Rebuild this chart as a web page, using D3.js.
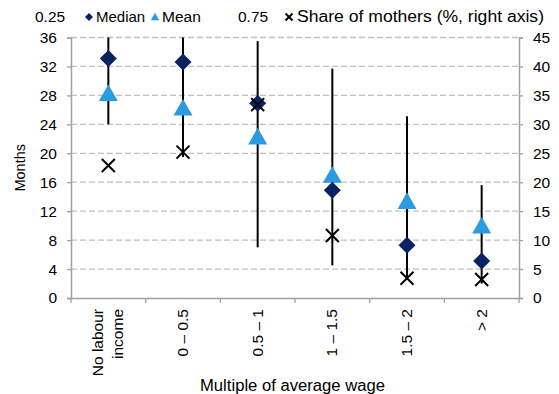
<!DOCTYPE html>
<html><head><meta charset="utf-8">
<script src="https://cdn.jsdelivr.net/npm/d3@7"></script>
<style>body{margin:0;background:#fff}svg{display:block}text{font-family:"Liberation Sans",Arial,sans-serif;fill:#000}</style>
</head><body><svg id="c" width="559" height="394"></svg>
<script>
const categories = ["No labour income","0 – 0.5","0.5 – 1","1 – 1.5","1.5 – 2","> 2"];
const q25 = [24, 19.5, 7, 4.5, 2.5, 2];
const q75 = [36, 36, 35.5, 31.7, 25.1, 15.6];
const median = [33.1, 32.6, 26.9, 14.9, 7.3, 5.1];
const mean = [28.2, 26.2, 22.2, 16.9, 13.3, 9.9];
const shareMothers = [22.9, 25.2, 33.4, 10.8, 3.4, 3.2];
const leftTicks = [0,4,8,12,16,20,24,28,32,36];
const rightTicks = [0,5,10,15,20,25,30,35,40,45];

const svg = d3.select("#c");
const L = 71, R = 519, T = 37.5, B = 298;
const x = d3.scaleBand().domain(categories).range([L, R]);
const yL = d3.scaleLinear().domain([0,36]).range([B, T]);
const yR = d3.scaleLinear().domain([0,45]).range([B, T]);
const axisCol = "#a0a0a0";

svg.append("g").selectAll("line").data(leftTicks.filter(d=>d>0)).join("line")
  .attr("x1", L).attr("x2", R).attr("y1", d=>yL(d)).attr("y2", d=>yL(d))
  .attr("stroke", "#c0c0c0").attr("stroke-width", 1.3).attr("stroke-dasharray", "6,3");

const gl = svg.append("g").attr("transform", `translate(${L},0)`)
  .call(d3.axisLeft(yL).tickValues(leftTicks).tickSize(4).tickPadding(10));
const gr = svg.append("g").attr("transform", `translate(${R},0)`)
  .call(d3.axisRight(yR).tickValues(rightTicks).tickSize(4).tickPadding(10));
const gx = svg.append("g").attr("transform", `translate(0,${B})`)
  .call(d3.axisBottom(x).tickValues([]).tickSize(0));
[gl, gr, gx].forEach(g => {
  g.select(".domain").attr("stroke", axisCol).attr("stroke-width", 1.5);
  g.selectAll(".tick line").attr("stroke", axisCol).attr("stroke-width", 1.3);
  g.selectAll(".tick text").attr("font-size", 15.5).attr("font-family", '"Liberation Sans",Arial,sans-serif').attr("fill", "#000");
});
const bounds = categories.map(c => x(c)).concat([R]);
svg.append("g").selectAll("line").data(bounds).join("line")
  .attr("x1", d=>d).attr("x2", d=>d).attr("y1", B).attr("y2", B+5)
  .attr("stroke", axisCol).attr("stroke-width", 1.3);

const cx = c => x(c) + x.bandwidth()/2;

svg.append("g").selectAll("line").data(categories).join("line")
  .attr("x1", c=>cx(c)).attr("x2", c=>cx(c))
  .attr("y1", (c,i)=>yL(q25[i])).attr("y2", (c,i)=>yL(q75[i]))
  .attr("stroke", "#000").attr("stroke-width", 2);

const diamond = s => `M0,${-s}L${s},0L0,${s}L${-s},0Z`;
const tri = s => `M0,${-s*1.0}L${s},${s*0.75}L${-s},${s*0.75}Z`;
const cross = s => `M${-s},${-s}L${s},${s}M${-s},${s}L${s},${-s}`;

svg.append("g").selectAll("path").data(categories).join("path")
  .attr("transform", (c,i)=>`translate(${cx(c)},${yL(mean[i])})`)
  .attr("d", tri(9.5)).attr("fill", "#2b9be0");
svg.append("g").selectAll("path").data(categories).join("path")
  .attr("transform", (c,i)=>`translate(${cx(c)},${yL(median[i])})`)
  .attr("d", diamond(8.5)).attr("fill", "#0a2164");
svg.append("g").selectAll("path").data(categories).join("path")
  .attr("transform", (c,i)=>`translate(${cx(c)},${yR(shareMothers[i])})`)
  .attr("d", cross(6.5)).attr("stroke", "#000").attr("stroke-width", 2).attr("fill", "none");

const xl = svg.append("g");
categories.forEach((c, i) => {
  const lines = c === "No labour income" ? ["No labour", "income"] : [c];
  const t = xl.append("text").attr("transform", `translate(${cx(c)},309) rotate(-90)`)
    .attr("text-anchor", "end").attr("font-size", 15.5);
  const n = lines.length;
  lines.forEach((ln, j) => {
    t.append("tspan").attr("x", 0).attr("y", (j - (n-1)/2) * 20 + 5).text(ln);
  });
});

svg.append("text").attr("transform", `translate(25,${(T+B)/2}) rotate(-90)`)
  .attr("text-anchor", "middle").attr("font-size", 14.5).text("Months");
svg.append("text").attr("x", 200).attr("y", 391)
  .attr("font-size", 16).attr("textLength", 185).attr("lengthAdjust", "spacingAndGlyphs").text("Multiple of average wage");

const lg = svg.append("g");
const ly = 22;
lg.append("text").attr("x", 35).attr("y", ly).attr("font-size", 15.5).text("0.25");
lg.append("path").attr("transform", `translate(89,${ly-5})`).attr("d", diamond(4)).attr("fill", "#0a2164");
lg.append("text").attr("x", 96).attr("y", ly).attr("font-size", 15).text("Median");
lg.append("path").attr("transform", `translate(155,${ly-5})`).attr("d", tri(4.2)).attr("fill", "#2b9be0");
lg.append("text").attr("x", 162).attr("y", ly).attr("font-size", 15.5).text("Mean");
lg.append("text").attr("x", 238).attr("y", ly).attr("font-size", 15.5).text("0.75");
lg.append("path").attr("transform", `translate(289,${ly-5})`).attr("d", cross(3.5)).attr("stroke", "#000").attr("stroke-width", 2);
lg.append("text").attr("x", 297).attr("y", ly).attr("font-size", 16).attr("textLength", 247).attr("lengthAdjust", "spacingAndGlyphs").text("Share of mothers (%, right axis)");
</script></body></html>
